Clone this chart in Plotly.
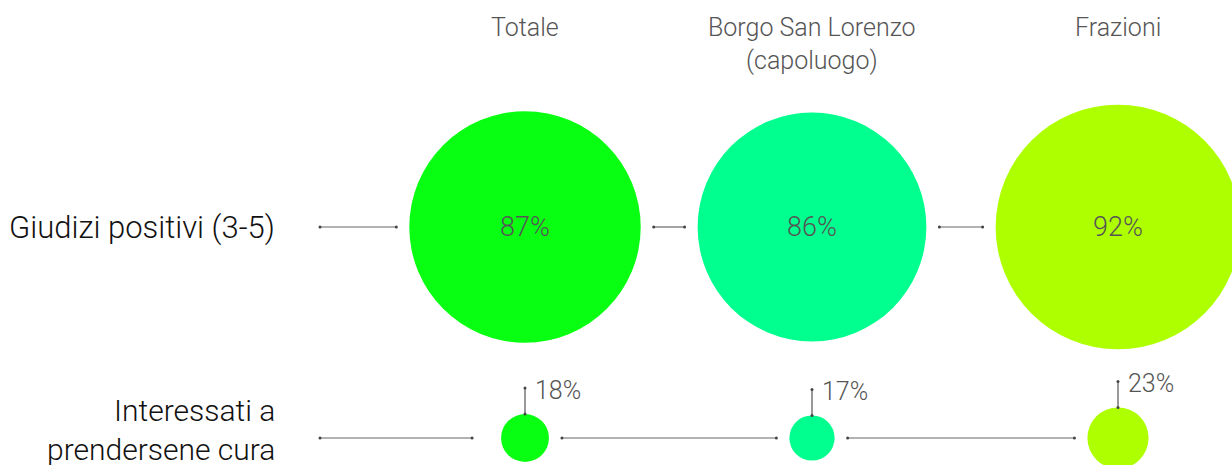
import plotly.graph_objects as go

# data
columns = ["Totale", "Borgo San Lorenzo<br>(capoluogo)", "Frazioni"]
rows = ["Giudizi positivi (3-5)", "Interessati a<br>prendersene cura"]
positivi = [87, 86, 92]
interessati = [18, 17, 23]
colors = ["#08ff12", "#00ff8e", "#aeff00"]

# layout in pixel units (axes map 1:1 to the page)
W, H = 1232, 465
col_x = [525, 812, 1118]
row_y = [227, 438]
label_x = 277
line_start = 320
px_per_pct = 1.33
gap = 13

FONT = "Roboto"
TXT = "#555555"

fig = go.Figure()
shapes = []
annotations = []


def connector(x0, x1, y):
    fig.add_trace(go.Scatter(
        x=[x0, x1], y=[y, y], mode="lines+markers",
        line=dict(color="#666666", width=1.2),
        marker=dict(size=3, color="#444444"),
        hoverinfo="skip", showlegend=False))


for r, (vals, y) in enumerate(zip([positivi, interessati], row_y)):
    prev_right = line_start
    for c, v in enumerate(vals):
        rad = v * px_per_pct
        cx = col_x[c]
        shapes.append(dict(type="circle", xref="x", yref="y",
                           x0=cx - rad, x1=cx + rad, y0=y - rad, y1=y + rad,
                           fillcolor=colors[c], line=dict(width=0), layer="below"))
        start = prev_right if c == 0 else prev_right + gap
        end = cx - rad - gap
        if r == 1 and c == 0:
            end = cx - rad - 29
        connector(start, end, y)
        prev_right = cx + rad
        if r == 0:
            annotations.append(dict(x=cx, y=y, text=f"{v}%", showarrow=False,
                                    font=dict(size=27, color=TXT, family=FONT, weight=300)))
        else:
            top = y - rad
            fig.add_trace(go.Scatter(
                x=[cx, cx], y=[top - 26, top], mode="lines+markers",
                line=dict(color="#555555", width=1.2),
                marker=dict(size=3, color="#444444"),
                hoverinfo="skip", showlegend=False))
            annotations.append(dict(x=cx + 8, y=top - 24, text=f"{v}%", showarrow=False,
                                    xanchor="left", yanchor="middle",
                                    font=dict(size=25, color=TXT, family=FONT, weight=300)))

for c, name in enumerate(columns):
    annotations.append(dict(x=col_x[c], y=11, text=name, showarrow=False,
                            yanchor="top", xanchor="center",
                            font=dict(size=25, color=TXT, family=FONT, weight=300)))

annotations.append(dict(x=label_x, y=row_y[0], text=rows[0], showarrow=False,
                        xanchor="right", yanchor="middle",
                        font=dict(size=31, color="#111111", family=FONT, weight=300)))
annotations.append(dict(x=label_x, y=row_y[1] - 8, text=rows[1], showarrow=False,
                        xanchor="right", yanchor="middle", align="right",
                        font=dict(size=30, color="#111111", family=FONT, weight=300)))

fig.update_layout(
    width=W, height=H,
    margin=dict(l=0, r=0, t=0, b=0),
    paper_bgcolor="white", plot_bgcolor="white",
    xaxis=dict(range=[0, W], visible=False, fixedrange=True),
    yaxis=dict(range=[H, 0], visible=False, fixedrange=True),
    shapes=shapes,
    annotations=annotations,
    showlegend=False,
)

fig.write_html("out.html", config={"displayModeBar": False},
               post_script="document.body.style.margin='0';")
